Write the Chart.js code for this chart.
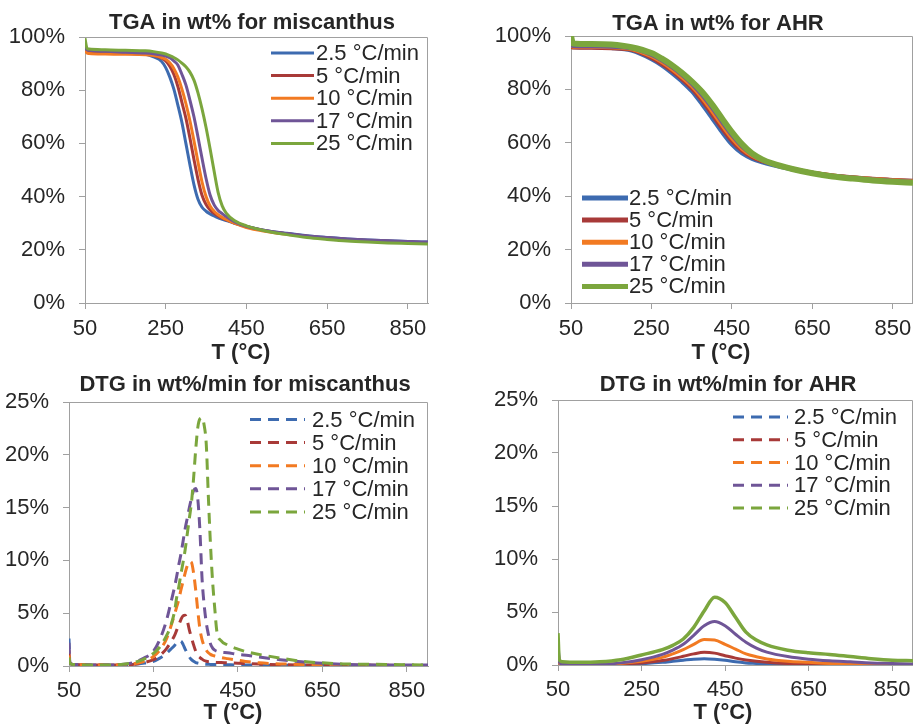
<!DOCTYPE html>
<html>
<head>
<meta charset="utf-8">
<script src="https://cdn.jsdelivr.net/npm/chart.js@4.4.1/dist/chart.umd.min.js"></script>
<style>
  body { margin: 0; background: #fff; }
  #wrap { position: relative; width: 913px; height: 724px; overflow: hidden; }
  canvas { position: absolute; }
</style>
</head>
<body>
<div id="wrap">
  <canvas id="c1" width="456" height="370" style="left:0;top:0"></canvas>
  <canvas id="c2" width="457" height="370" style="left:456px;top:0"></canvas>
  <canvas id="c3" width="456" height="354" style="left:0;top:370px"></canvas>
  <canvas id="c4" width="457" height="354" style="left:456px;top:370px"></canvas>
</div>
<script>
// ---------- data ----------
const rateLabels = ['2.5 °C/min', '5 °C/min', '10 °C/min', '17 °C/min', '25 °C/min'];
const xTicks = [50, 250, 450, 650, 850];

// TGA miscanthus (wt%)
const misTgaT = [50, 55, 60, 100, 150, 200, 220, 240, 250, 260, 270, 280, 290, 300, 310, 320, 330, 340, 350, 360,
  370, 380, 390, 400, 420, 450, 500, 550, 600, 650, 700, 750, 800, 850, 900];
const misTga2_5 = [96, 95.3, 95.1, 94.8, 94.2, 93.5, 92.5, 90.8, 88.5, 85, 80.5, 74.5, 68, 60, 52, 44.5, 39, 36, 34.5, 33.5,
  32.7, 32, 31.5, 31, 30, 28.8, 27.2, 26.2, 25.3, 24.6, 24.1, 23.7, 23.4, 23.1, 22.9];
const misTga5 = [95.5, 94.5, 94.2, 94, 93.8, 93.5, 93, 92, 91, 89, 86, 81.5, 75.5, 69.5, 62, 54, 46.5, 40.5, 37, 35,
  33.7, 32.7, 31.9, 31.3, 30.1, 28.7, 27.1, 26, 25.1, 24.4, 23.9, 23.5, 23.2, 22.9, 22.7];
const misTga10 = [95, 94, 93.8, 93.6, 93.5, 93.3, 93, 92.3, 91.6, 90.3, 88.2, 85, 80.5, 75, 68.5, 61, 53, 45.5, 40, 36.5,
  34.5, 33.2, 32.2, 31.4, 30, 28.4, 26.9, 25.8, 25, 24.3, 23.8, 23.4, 23.1, 22.8, 22.6];
const misTga17 = [96, 95.2, 95, 94.6, 94.3, 94, 93.7, 93.2, 92.8, 92.2, 91, 89.5, 86, 82, 76.3, 70, 62.4, 54.4, 46.8, 40.6,
  36.9, 34.8, 33.6, 32.5, 30.6, 28.8, 27.2, 26.1, 25.2, 24.6, 24.1, 23.7, 23.4, 23.1, 22.9];
const misTga25 = [99.5, 95.8, 95.5, 95.2, 95, 94.8, 94.5, 94, 93.6, 93, 92.3, 91.4, 90.2, 88.8, 86.8, 83.8, 79, 73, 66, 58,
  49.5, 41.5, 36.5, 33.8, 31, 29, 27, 25.7, 24.6, 23.9, 23.3, 22.9, 22.6, 22.4, 22.2];

// TGA AHR (wt%)
const ahrTgaT = [50, 55, 100, 150, 200, 250, 275, 300, 325, 350, 375, 400, 425, 450, 475, 500, 525, 550, 600, 650,
  700, 750, 800, 850, 900];
const ahrTga2_5 = [96, 95.8, 95.8, 95.5, 94.5, 91.3, 89, 86.2, 83, 79.3, 74.5, 69.3, 64, 59.3, 56, 54, 52.7, 51.7, 50, 48.6,
  47.7, 47, 46.4, 46, 45.7];
const ahrTga5 = [96, 95.7, 95.6, 95.4, 94.8, 91.8, 89.6, 87, 83.9, 80.4, 75.9, 70.8, 65.4, 60.6, 57, 54.6, 53.1, 52, 50.2, 48.8,
  47.8, 47.1, 46.5, 46.1, 45.8];
const ahrTga10 = [96.3, 96, 96, 95.8, 95.1, 92.4, 90.3, 87.7, 84.7, 81.3, 77, 72, 66.7, 61.7, 57.8, 55.1, 53.4, 52.2, 50.3, 48.8,
  47.8, 47, 46.4, 46, 45.6];
const ahrTga17 = [96.5, 96.3, 96.2, 96, 95.4, 92.9, 90.9, 88.4, 85.5, 82.1, 78, 73.2, 67.9, 62.8, 58.6, 55.6, 53.6, 52.3, 50.3, 48.8,
  47.7, 46.9, 46.3, 45.8, 45.4];
const ahrTga25 = [100, 97.2, 97, 96.8, 95.8, 93.6, 91.6, 89.2, 86.3, 83, 79.2, 74.5, 69.2, 64, 59.5, 56, 53.8, 52.3, 50.2, 48.6,
  47.4, 46.6, 45.9, 45.4, 45];

// DTG miscanthus (wt%/min)
const misDtgT = [50, 52, 60, 100, 150, 200, 225, 250, 265, 280, 290, 300, 305, 310, 315, 320, 325, 330, 335, 340,
  345, 350, 355, 360, 365, 370, 375, 380, 385, 390, 395, 400, 410, 425, 450, 475, 500, 550, 600, 650, 700, 800, 900];
const misDtg2_5 = [2.6, 0.3, 0.15, 0.1, 0.1, 0.15, 0.25, 0.45, 0.75, 1.15, 1.55, 1.95, 2.2, 2.38, 2.35, 2.05, 1.6, 1.2, 0.85, 0.6,
  0.45, 0.33, 0.27, 0.23, 0.2, 0.18, 0.17, 0.16, 0.15, 0.15, 0.14, 0.14, 0.13, 0.12, 0.1, 0.1, 0.08, 0.07, 0.06, 0.05, 0.05, 0.05, 0.05];
const misDtg5 = [1.5, 0.3, 0.15, 0.1, 0.1, 0.15, 0.3, 0.6, 1.0, 1.6, 2.2, 2.9, 3.4, 3.9, 4.4, 4.75, 4.8, 4.3, 3.4, 2.7,
  2.0, 1.4, 1.0, 0.8, 0.65, 0.52, 0.45, 0.4, 0.38, 0.36, 0.35, 0.34, 0.32, 0.3, 0.26, 0.22, 0.18, 0.13, 0.1, 0.08, 0.07, 0.06, 0.05];
const misDtg10 = [1.0, 0.3, 0.15, 0.1, 0.1, 0.2, 0.4, 0.9, 1.5, 2.5, 3.6, 4.9, 5.6, 6.3, 7.2, 8.0, 8.8, 9.5, 9.9, 9.8,
  8.8, 7.2, 5.2, 3.5, 2.5, 1.9, 1.5, 1.25, 1.1, 1.0, 0.95, 0.9, 0.8, 0.7, 0.55, 0.4, 0.3, 0.2, 0.15, 0.1, 0.08, 0.06, 0.05];
const misDtg17 = [2.2, 0.3, 0.15, 0.1, 0.1, 0.3, 0.7, 1.4, 2.5, 4.2, 5.8, 7.5, 8.5, 9.6, 10.6, 11.8, 13.0, 14.0, 15.0, 15.9,
  16.6, 16.8, 15.8, 12.8, 8.3, 5.8, 4.1, 3.0, 2.1, 1.7, 1.5, 1.4, 1.3, 1.25, 1.1, 1.0, 0.85, 0.6, 0.4, 0.25, 0.15, 0.1, 0.1];
const misDtg25 = [0.8, 0.3, 0.15, 0.1, 0.1, 0.3, 0.6, 1.2, 1.8, 2.8, 3.7, 5.2, 6.5, 7.5, 8.7, 9.8, 11.0, 12.5, 14.0, 15.5,
  17.8, 20.5, 22.6, 23.4, 23.5, 22.8, 21, 16, 11.5, 8, 5.5, 3.3, 2.4, 2.0, 1.6, 1.3, 1.1, 0.75, 0.45, 0.3, 0.2, 0.15, 0.1];

// DTG AHR (wt%/min)
const ahrDtgT = [50, 53, 60, 100, 150, 200, 250, 300, 325, 350, 375, 400, 425, 450, 475, 500, 525, 550, 600, 650,
  700, 750, 800, 850, 900];
const ahrDtg2_5 = [2.5, 0.2, 0.1, 0.05, 0.05, 0.05, 0.12, 0.25, 0.35, 0.45, 0.55, 0.6, 0.55, 0.45, 0.3, 0.2, 0.15, 0.1, 0.05, 0.03,
  0.02, 0.02, 0.02, 0.02, 0.02];
const ahrDtg5 = [1.8, 0.2, 0.1, 0.05, 0.05, 0.1, 0.2, 0.42, 0.6, 0.82, 1.05, 1.2, 1.12, 0.88, 0.65, 0.47, 0.35, 0.26, 0.15, 0.1,
  0.08, 0.05, 0.05, 0.03, 0.02];
const ahrDtg10 = [1.5, 0.2, 0.1, 0.05, 0.05, 0.15, 0.35, 0.72, 1.05, 1.45, 1.95, 2.4, 2.35, 1.95, 1.5, 1.05, 0.78, 0.57, 0.35, 0.25,
  0.15, 0.1, 0.1, 0.05, 0.05];
const ahrDtg17 = [2.0, 0.3, 0.1, 0.05, 0.05, 0.2, 0.5, 1.0, 1.4, 1.95, 2.8, 3.7, 4.1, 3.7, 2.9, 2.15, 1.6, 1.22, 0.8, 0.55,
  0.4, 0.3, 0.2, 0.15, 0.1];
const ahrDtg25 = [3.0, 0.5, 0.3, 0.25, 0.3, 0.5, 0.95, 1.45, 1.85, 2.45, 3.55, 5.1, 6.4, 5.9, 4.5, 3.1, 2.35, 1.9, 1.4, 1.15,
  1.0, 0.8, 0.6, 0.45, 0.4];

// ---------- style ----------
const colors = ['#3D6BB0', '#A83A38', '#F27A22', '#6F5597', '#7BA63D'];
const AXIS = '#A0A0A0';
const TEXT = '#262626';
const FONT = '"Liberation Sans", Arial, sans-serif';

Chart.defaults.font.family = FONT;
Chart.defaults.font.size = 22;
Chart.defaults.color = TEXT;

// title, axis title, legend and the top/right frame of each panel
const panelDecor = {
  id: 'panelDecor',
  beforeDatasetsDraw(chart) {
    const { ctx, chartArea: a } = chart;
    ctx.save();
    ctx.strokeStyle = AXIS;
    ctx.lineWidth = 1;
    ctx.beginPath();
    ctx.moveTo(a.left, a.top + 0.5);
    ctx.lineTo(a.right - 0.5, a.top + 0.5);
    ctx.lineTo(a.right - 0.5, a.bottom);
    ctx.stroke();
    ctx.restore();
  },
  afterDraw(chart, args, o) {
    const ctx = chart.ctx;
    ctx.save();
    ctx.fillStyle = TEXT;
    ctx.textBaseline = 'middle';
    ctx.textAlign = 'center';
    ctx.font = 'bold 22px ' + FONT;
    ctx.fillText(o.title, o.titleX, o.titleY);
    ctx.fillText('T (°C)', o.xTitleX, o.xTitleY);

    ctx.font = '22px ' + FONT;
    ctx.textAlign = 'left';
    chart.data.datasets.forEach((ds, i) => {
      const y = o.legY + i * o.legGap;
      ctx.strokeStyle = ds.borderColor;
      ctx.lineWidth = o.legWidth;
      ctx.setLineDash(o.legDash);
      ctx.beginPath();
      ctx.moveTo(o.legX, y);
      ctx.lineTo(o.legX + o.legLen, y);
      ctx.stroke();
      ctx.fillText(ds.label, o.legX + o.legLen + o.legTextGap, y + 1);
    });
    ctx.restore();
  }
};

function series(T, vals, i, width, dash) {
  return {
    label: rateLabels[i],
    data: T.map((t, k) => ({ x: t, y: vals[k] })),
    borderColor: colors[i],
    borderWidth: width,
    borderDash: dash,
    pointRadius: 0,
    cubicInterpolationMode: 'monotone',
    fill: false,
    order: 5 - i
  };
}

function makeChart(id, datasets, yMax, yStep, box, xPad, decor) {
  const canvas = document.getElementById(id);
  const W = canvas.width, H = canvas.height;
  return new Chart(canvas, {
    type: 'line',
    data: { datasets },
    plugins: [panelDecor],
    options: {
      responsive: false,
      animation: false,
      events: [],
      layout: { padding: { left: 0, top: box.top, right: W - box.right, bottom: 0 } },
      plugins: { legend: { display: false }, tooltip: { enabled: false }, panelDecor: decor },
      scales: {
        x: {
          type: 'linear', min: 50, max: 900,
          afterBuildTicks: s => { s.ticks = xTicks.map(v => ({ value: v })); },
          afterFit: s => { s.height = H - box.bottom; s.paddingLeft = 0; s.paddingRight = 0; },
          grid: { drawOnChartArea: false, drawTicks: true, tickLength: 6, color: AXIS },
          border: { color: AXIS, width: 1 },
          ticks: { padding: xPad, maxRotation: 0, autoSkip: false, callback: v => v }
        },
        y: {
          min: 0, max: yMax,
          afterFit: s => { s.width = box.left; s.paddingTop = 0; s.paddingBottom = 0; },
          grid: { drawOnChartArea: false, drawTicks: true, tickLength: 6, color: AXIS },
          border: { color: AXIS, width: 1 },
          ticks: { stepSize: yStep, padding: 14, callback: v => v + '%' }
        }
      }
    }
  });
}

const misTgaSets = [misTga2_5, misTga5, misTga10, misTga17, misTga25];
const ahrTgaSets = [ahrTga2_5, ahrTga5, ahrTga10, ahrTga17, ahrTga25];
const misDtgSets = [misDtg2_5, misDtg5, misDtg10, misDtg17, misDtg25];
const ahrDtgSets = [ahrDtg2_5, ahrDtg5, ahrDtg10, ahrDtg17, ahrDtg25];
const DASH = [11, 7];

makeChart('c1', misTgaSets.map((v, i) => series(misTgaT, v, i, 3, [])), 100, 20,
  { left: 85, top: 37, right: 428, bottom: 303 }, 7,
  { title: 'TGA in wt% for miscanthus', titleX: 252, titleY: 23, xTitleX: 241, xTitleY: 353,
    legX: 271, legY: 53, legGap: 22.6, legLen: 43, legTextGap: 2, legWidth: 3, legDash: [] });

makeChart('c2', ahrTgaSets.map((v, i) => series(ahrTgaT, v, i, i === 4 ? 6 : 4, [])), 100, 20,
  { left: 115, top: 36, right: 457, bottom: 303 }, 7,
  { title: 'TGA in wt% for AHR', titleX: 262, titleY: 24, xTitleX: 265, xTitleY: 353,
    legX: 126, legY: 198, legGap: 22.1, legLen: 46, legTextGap: 1, legWidth: 5, legDash: [] });

makeChart('c3', misDtgSets.map((v, i) => series(misDtgT, v, i, 3, DASH)), 25, 5,
  { left: 69, top: 32, right: 428, bottom: 296 }, 6,
  { title: 'DTG in wt%/min for miscanthus', titleX: 245, titleY: 15, xTitleX: 233, xTitleY: 343,
    legX: 250, legY: 49.5, legGap: 23.1, legLen: 55, legTextGap: 7, legWidth: 3, legDash: DASH });

makeChart('c4', ahrDtgSets.map((v, i) => series(ahrDtgT, v, i, i === 4 ? 3.5 : 3, [])), 25, 5,
  { left: 102, top: 30, right: 457, bottom: 295 }, 6,
  { title: 'DTG in wt%/min for AHR', titleX: 272, titleY: 15, xTitleX: 267, xTitleY: 343,
    legX: 277, legY: 47, legGap: 22.75, legLen: 55, legTextGap: 6, legWidth: 3, legDash: DASH });
</script>
</body>
</html>
